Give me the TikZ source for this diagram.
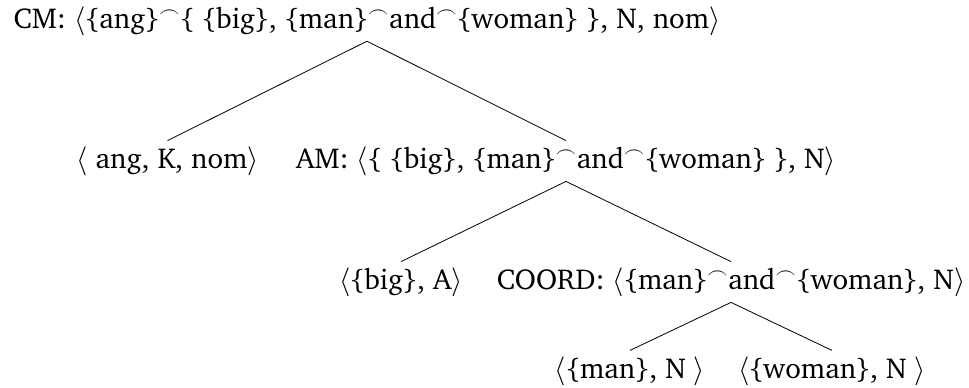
\documentclass[tikz,border=0pt]{standalone}
\usepackage[T1]{fontenc}
\usepackage{charter}
\begin{document}
\begin{tikzpicture}[x=1pt,y=1pt,tn/.style={anchor=base,inner sep=2.8pt,text height=10.8pt,text depth=3.6pt,font=\fontsize{14.4}{17}\selectfont}]
 \useasboundingbox (0,0) rectangle (484.5,-193.5);
 \node[tn] (cm) at (183.5,-14) {CM: $\langle$\{ang\}$^\frown$\{ \{big\}, \{man\}$^\frown$and$^\frown$\{woman\} \}, N, nom$\rangle$};
 \node[tn] (ang) at (83.75,-84.1) {$\langle$ ang, K, nom$\rangle$};
 \node[tn] (am) at (283,-84.1) {AM: $\langle$\{ \{big\}, \{man\}$^\frown$and$^\frown$\{woman\} \}, N$\rangle$};
 \node[tn] (big) at (200.5,-144.6) {$\langle$\{big\}, A$\rangle$};
 \node[tn] (coord) at (365.5,-144.6) {COORD: $\langle$\{man\}$^\frown$and$^\frown$\{woman\}, N$\rangle$};
 \node[tn] (man) at (315,-189) {$\langle$\{man\}, N $\rangle$};
 \node[tn] (woman) at (416,-189) {$\langle$\{woman\}, N $\rangle$};
 \draw (cm.south) -- (ang.north);
 \draw (cm.south) -- (am.north);
 \draw (am.south) -- (big.north);
 \draw (am.south) -- (coord.north);
 \draw (coord.south) -- (man.north);
 \draw (coord.south) -- (woman.north);
\end{tikzpicture}
\end{document}
